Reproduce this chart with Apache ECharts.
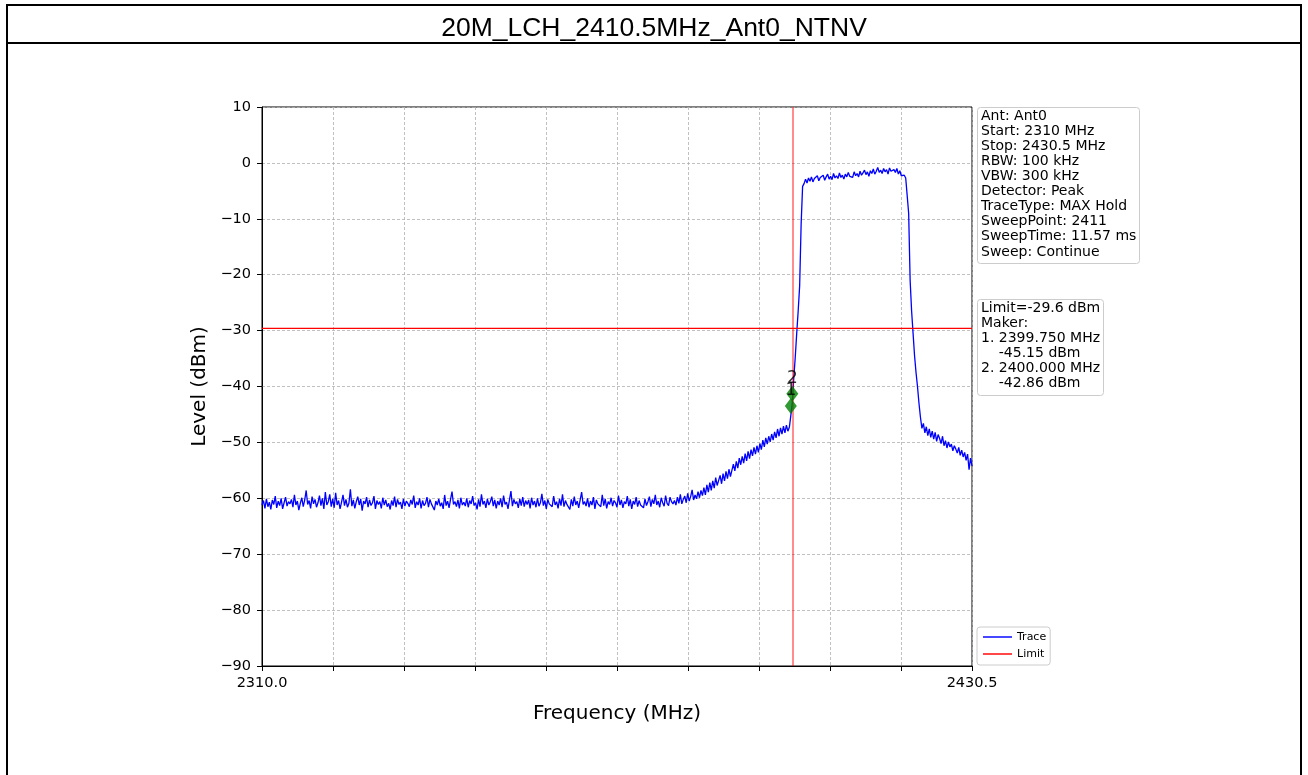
<!DOCTYPE html>
<html>
<head>
<meta charset="utf-8">
<script src="https://cdn.jsdelivr.net/npm/echarts@6/dist/echarts.min.js"></script>
<style>
html,body{margin:0;padding:0;background:#fff;}
#chart{width:1308px;height:775px;}
</style>
</head>
<body>
<div id="chart"></div>
<script>
// ---- data ----
const TITLE = '20M_LCH_2410.5MHz_Ant0_NTNV';
const START_MHZ = 2310.0;
const STOP_MHZ = 2430.5;
const STEP_MHZ = 0.25;          // sweep grid used for the read-off trace
const X_TICK_STEP = 12.05;      // 10 divisions
const Y_MIN = -90, Y_MAX = 10, Y_STEP = 10;
const LIMIT_DBM = -29.6;
const MARKER_LINE_MHZ = 2400.0;
const markerFreqs = [2399.75, 2400.0];
const markerLevels = [-43.5, -41.3];   // as drawn in the picture
const markerNames = ['1', '2'];
const infoLines = ['Ant: Ant0','Start: 2310 MHz','Stop: 2430.5 MHz','RBW: 100 kHz','VBW: 300 kHz','Detector: Peak','TraceType: MAX Hold','SweepPoint: 2411','SweepTime: 11.57 ms','Sweep: Continue'];
const limitLines = ['Limit=-29.6 dBm','Maker:','1. 2399.750 MHz','    -45.15 dBm','2. 2400.000 MHz','    -42.86 dBm'];
const traceLevels = [
-61.2,-60.4,-61.8,-60.1,-61.5,-60.7,-62.0,-60.3,-61.1,-59.6,-61.7,-60.5,-61.3,-60.0,-61.9,-60.8,-59.8,-61.4,-60.6,-61.0,
-60.2,-61.6,-59.4,-61.2,-60.5,-62.1,-60.9,-59.9,-61.5,-60.3,-58.6,-61.1,-60.4,-61.8,-59.7,-61.0,-60.2,-61.6,-60.8,-59.5,
-61.3,-60.0,-61.9,-58.9,-61.2,-60.6,-59.3,-61.5,-60.1,-61.7,-59.0,-61.2,-60.4,-61.9,-60.7,-59.4,-61.3,-60.2,-61.6,-60.9,
-58.4,-61.4,-60.3,-61.8,-60.6,-59.7,-61.2,-60.1,-62.2,-60.5,-61.0,-59.8,-61.6,-60.3,-61.3,-60.8,-59.6,-61.9,-60.4,-61.1,
-60.6,-61.8,-59.9,-61.2,-60.3,-61.5,-60.9,-62.0,-60.4,-61.3,-59.7,-61.6,-60.2,-61.1,-60.7,-61.9,-60.1,-61.4,-60.5,-60.9,
-61.5,-60.3,-61.1,-59.5,-61.7,-60.6,-61.2,-60.0,-61.8,-60.4,-61.3,-60.9,-59.8,-61.6,-60.2,-61.0,-60.7,-62.1,-60.5,-61.2,
-60.1,-61.4,-60.8,-61.9,-59.4,-61.3,-60.5,-61.7,-60.2,-58.8,-61.1,-60.6,-61.5,-60.3,-61.8,-59.9,-61.2,-60.7,-61.4,-60.0,
-61.6,-60.4,-61.0,-59.6,-61.3,-60.8,-62.0,-60.2,-61.5,-59.3,-61.1,-60.5,-61.7,-60.1,-61.2,-60.6,-59.7,-61.4,-60.3,-61.8,
-60.5,-61.2,-60.0,-61.6,-59.5,-61.1,-60.7,-61.9,-60.3,-58.7,-61.4,-60.2,-61.0,-60.6,-61.7,-60.1,-61.3,-59.8,-61.5,-60.4,
-61.1,-60.3,-61.8,-59.9,-61.2,-60.5,-61.6,-60.0,-61.4,-60.8,-59.2,-61.3,-60.4,-61.9,-60.2,-61.0,-60.7,-61.5,-59.6,-61.2,
-60.6,-61.8,-60.1,-61.3,-59.3,-61.5,-60.4,-61.1,-60.9,-62.0,-60.2,-61.4,-59.7,-61.2,-60.5,-61.7,-60.3,-58.9,-61.1,-60.6,
-61.4,-60.0,-61.6,-60.5,-61.2,-59.8,-61.9,-60.3,-61.0,-60.7,-61.5,-59.4,-61.3,-60.1,-61.8,-60.6,-61.1,-59.9,-61.4,-60.4,
-60.8,-61.6,-59.5,-61.2,-60.3,-61.7,-60.6,-61.0,-59.6,-61.4,-60.2,-61.9,-60.5,-61.1,-59.8,-61.5,-60.4,-61.2,-60.9,-61.7,
-60.1,-61.3,-60.6,-59.7,-61.5,-60.2,-61.0,-59.4,-61.2,-60.5,-61.6,-59.9,-60.8,-61.4,-59.5,-60.9,-61.3,-59.8,-60.6,-61.0,
-60.4,-61.2,-59.8,-60.9,-59.3,-61.0,-60.2,-59.6,-60.8,-59.1,-60.5,-59.7,-58.5,-60.3,-59.4,-60.1,-58.8,-59.9,-58.6,-59.5,
-58.1,-59.4,-57.6,-58.9,-57.2,-58.6,-56.9,-58.2,-56.3,-57.7,-56.8,-55.9,-57.4,-55.6,-56.9,-55.2,-56.5,-54.8,-56.1,-55.0,
-53.9,-55.1,-53.4,-54.6,-52.8,-54.0,-52.5,-53.7,-52.0,-53.3,-51.6,-52.9,-51.3,-52.4,-50.9,-52.1,-50.6,-51.8,-50.2,-51.3,
-49.6,-50.8,-49.2,-50.3,-48.9,-49.9,-48.5,-49.6,-48.1,-49.2,-47.6,-48.9,-47.4,-48.5,-47.1,-48.3,-46.9,-48.0,-47.3,-45.2,
-42.9,-38.5,-34.8,-30.5,-26.5,-22.0,-11.0,-4.2,-3.7,-2.9,-3.6,-2.7,-3.3,-2.5,-3.4,-2.8,-3.1,-2.3,-3.2,-2.6,
-2.9,-2.2,-3.1,-2.5,-2.0,-2.9,-2.4,-3.0,-1.9,-2.7,-2.3,-2.8,-1.8,-2.6,-2.2,-2.9,-2.0,-2.5,-1.7,-2.4,
-2.1,-2.6,-1.6,-2.3,-1.9,-2.5,-1.5,-2.2,-1.8,-1.3,-2.1,-1.6,-2.4,-1.4,-1.9,-1.1,-2.0,-1.5,-0.8,-1.7,
-1.3,-1.9,-1.0,-1.6,-1.2,-2.0,-0.9,-1.5,-1.8,-1.2,-1.7,-1.0,-2.0,-1.4,-2.3,-2.5,-2.2,-2.7,-2.9,-9.0,
-21.0,-26.5,-30.5,-34.5,-37.5,-40.0,-43.0,-45.5,-47.5,-46.6,-48.3,-47.2,-48.8,-47.6,-49.1,-48.0,-49.4,-48.2,-49.8,-48.6,
-49.3,-50.2,-48.9,-50.6,-49.7,-51.0,-49.9,-50.8,-50.3,-51.5,-50.6,-51.2,-51.9,-50.9,-52.3,-51.4,-52.6,-51.8,-53.2,-52.1,
-54.9,-52.8,-54.2
];

// ---- build ----
const SPAN = STOP_MHZ - START_MHZ;
const off = f => +(f - START_MHZ).toFixed(4);
const traceData = traceLevels.map((v, i) => [+(i * STEP_MHZ).toFixed(4), v]);
const markerData = markerFreqs.map((f, i) => ({ value: [off(f), markerLevels[i]], name: markerNames[i] }));
const FONT = 'DejaVu Sans';
const fmtY = v => (v < 0 ? '\u2212' + Math.abs(v) : String(v));

const chart = echarts.init(document.getElementById('chart'), null, { renderer: 'canvas' });
chart.setOption({
  animation: false,
  backgroundColor: '#ffffff',
  title: {
    text: TITLE, left: 'center', top: 10,
    textStyle: { fontFamily: 'Liberation Sans', fontSize: 26.5, fontWeight: 'normal', color: '#000' }
  },
  grid: {
    left: 262, top: 107, right: 336, bottom: 109, containLabel: false,
    show: true, borderColor: '#000', borderWidth: 1, backgroundColor: '#fff'
  },
  xAxis: {
    type: 'value', min: 0, max: SPAN, interval: X_TICK_STEP,
    name: 'Frequency (MHz)', nameLocation: 'middle', nameGap: 38,
    nameTextStyle: { fontFamily: FONT, fontSize: 20, color: '#000' },
    axisLine: { show: true, onZero: false, lineStyle: { color: '#000', width: 1 } },
    axisTick: { show: true, length: 5, lineStyle: { color: '#000', width: 1 } },
    axisLabel: {
      margin: 10, fontFamily: FONT, fontSize: 14.5, color: '#000', showMinLabel: true, showMaxLabel: true,
      formatter: v => (Math.abs(v) < 1e-6 || Math.abs(v - SPAN) < 1e-6) ? (START_MHZ + v).toFixed(1) : ''
    },
    splitLine: { show: true, lineStyle: { color: '#b0b0b0', width: 0.8, type: [3, 2] } }
  },
  yAxis: {
    type: 'value', min: Y_MIN, max: Y_MAX, interval: Y_STEP,
    name: 'Level (dBm)', nameLocation: 'middle', nameGap: 52,
    nameTextStyle: { fontFamily: FONT, fontSize: 20, color: '#000' },
    axisLine: { show: true, onZero: false, lineStyle: { color: '#000', width: 1 } },
    axisTick: { show: true, length: 5, lineStyle: { color: '#000', width: 1 } },
    axisLabel: { margin: 11, fontFamily: FONT, fontSize: 14.5, color: '#000', formatter: fmtY },
    splitLine: { show: true, lineStyle: { color: '#b0b0b0', width: 0.8, type: [3, 2] } }
  },
  legend: {
    data: ['Trace', 'Limit'], orient: 'vertical', left: 977, top: 627,
    padding: [4, 4, 5, 6], itemGap: 5, itemWidth: 29, itemHeight: 12,
    icon: 'path://M0,0H30V1.5H0Z',
    borderColor: '#cccccc', borderWidth: 1, borderRadius: 3, backgroundColor: 'rgba(255,255,255,0.8)',
    textStyle: { fontFamily: FONT, fontSize: 11, color: '#000', lineHeight: 12 }
  },
  series: [
    {
      name: 'Trace', type: 'line', data: traceData, showSymbol: false, symbol: 'none',
      lineStyle: { color: '#0000ff', width: 1.3 }, itemStyle: { color: '#0000ff' }, z: 3,
      markLine: {
        silent: true, symbol: 'none', label: { show: false },
        lineStyle: { color: 'rgba(255,0,0,0.6)', width: 1.5, type: 'solid' },
        data: [{ xAxis: off(MARKER_LINE_MHZ) }]
      }
    },
    {
      name: 'Limit', type: 'line', data: [[0, LIMIT_DBM], [SPAN, LIMIT_DBM]], showSymbol: false, symbol: 'none',
      lineStyle: { color: '#ff0000', width: 1.2 }, itemStyle: { color: '#ff0000' }, z: 4
    },
    {
      name: 'Marker', type: 'scatter', data: markerData, symbol: 'diamond', symbolSize: [12, 16],
      itemStyle: { color: '#008000' }, z: 5,
      label: { show: true, position: 'top', distance: -1, formatter: p => p.name,
               fontFamily: FONT, fontSize: 17, color: '#000' }
    }
  ],
  graphic: [
    { type: 'rect', shape: { x: 7, y: 5, width: 1294, height: 800 }, style: { fill: 'none', stroke: '#000', lineWidth: 2 }, z: 100 },
    { type: 'line', shape: { x1: 7, y1: 43, x2: 1301, y2: 43 }, style: { stroke: '#000', lineWidth: 2 }, z: 100 },
    { type: 'rect', shape: { x: 977.5, y: 107.5, width: 162, height: 156, r: 3 }, style: { fill: 'rgba(255,255,255,0.8)', stroke: '#cccccc', lineWidth: 1 }, z: 50 },
    { type: 'text', x: 981, y: 108.5, style: { text: infoLines.join('\n'), font: '14px "DejaVu Sans"', lineHeight: 15.1, fill: '#000' }, z: 51 },
    { type: 'rect', shape: { x: 977.5, y: 299.5, width: 126, height: 96, r: 3 }, style: { fill: 'rgba(255,255,255,0.8)', stroke: '#cccccc', lineWidth: 1 }, z: 50 },
    { type: 'text', x: 981, y: 300.5, style: { text: limitLines.join('\n'), font: '14px "DejaVu Sans"', lineHeight: 15.1, fill: '#000' }, z: 51 }
  ]
});
</script>
</body>
</html>
